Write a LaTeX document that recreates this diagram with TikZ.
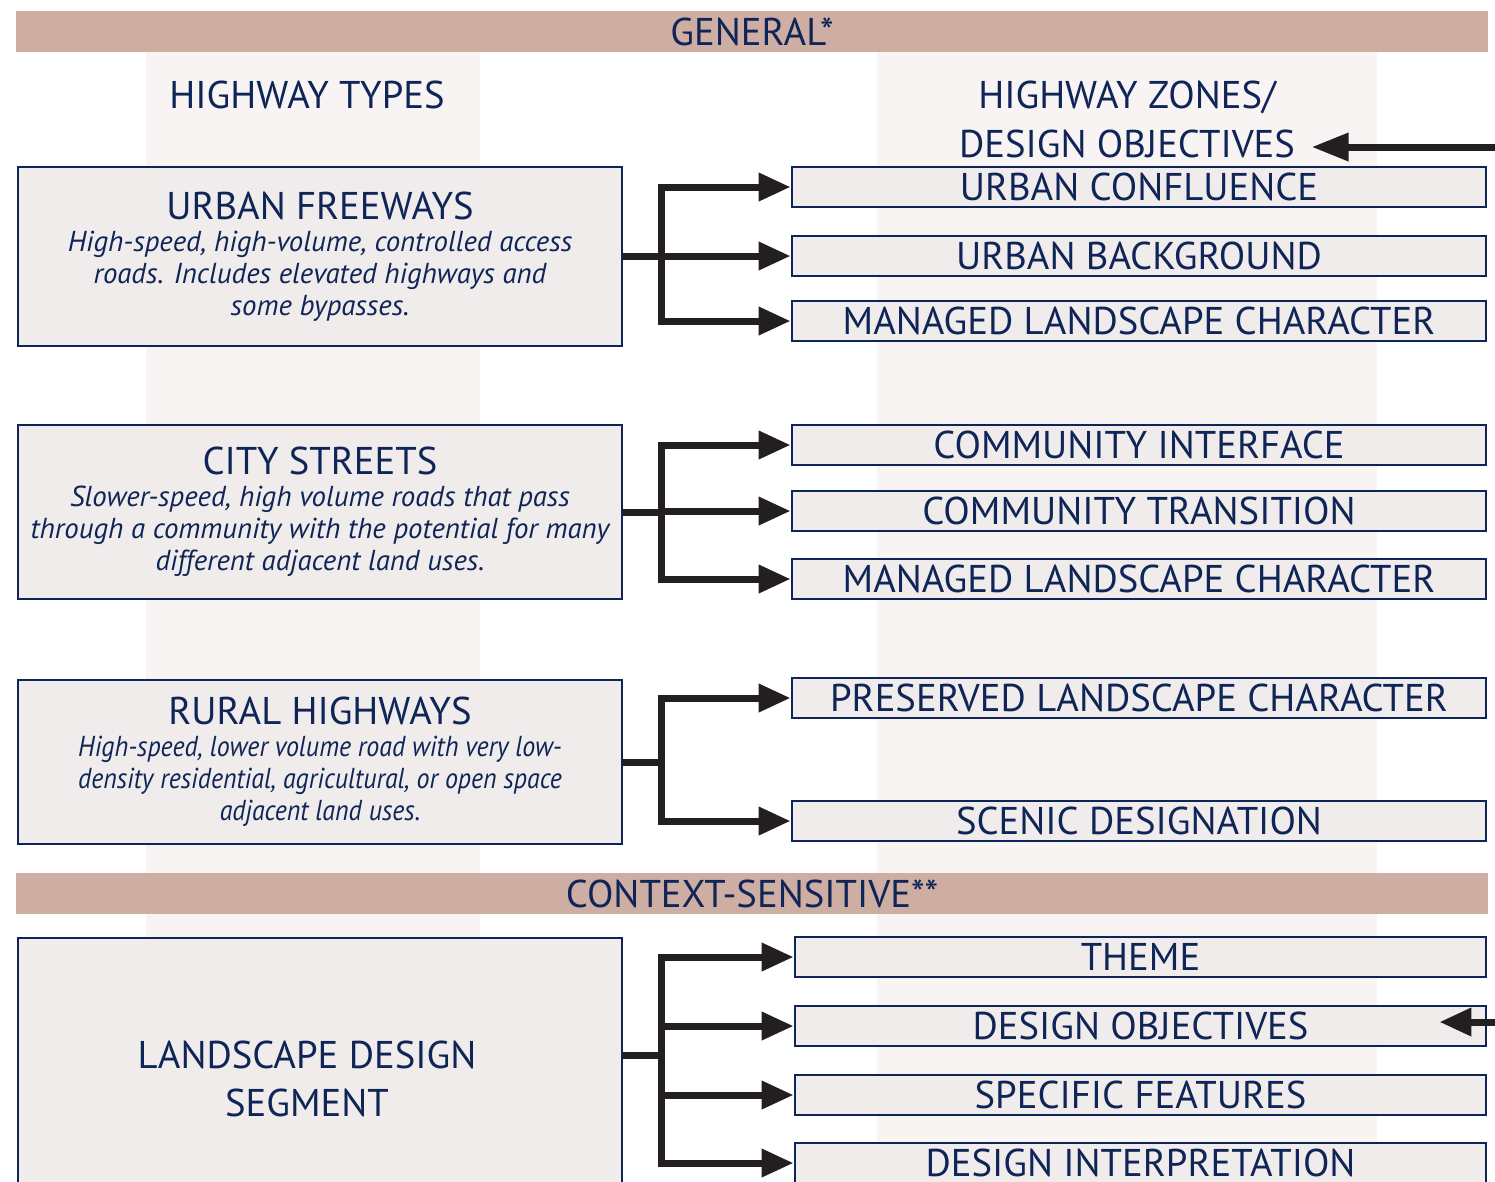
\documentclass[tikz,border=0pt]{standalone}
\usepackage{fontspec}
\setmainfont{PT Sans}
\newfontfamily\narrowfont[FakeStretch=0.9]{PT Sans}
\usetikzlibrary{positioning,arrows.meta}
\definecolor{bandtan}{HTML}{CEADA3}
\definecolor{colshade}{HTML}{F8F4F3}
\definecolor{boxfill}{HTML}{F0ECEB}
\definecolor{navy}{HTML}{0F2557}
\definecolor{arrowblk}{HTML}{231F20}
\newcommand{\capsize}{\fontsize{11}{12}\selectfont}
\tikzset{
  flowline/.style={line width=0.7mm, draw=arrowblk},
  flowarrow/.style={flowline, -{Triangle[length=3.2mm,width=2.7mm]}},
  band/.style={fill=bandtan, minimum width=14.72cm, minimum height=0.41cm, inner sep=0pt, text=navy, font=\capsize},
  heading/.style={anchor=base, inner sep=0pt, text=navy, font=\capsize},
  typebox/.style={draw=navy, line width=0.25mm, fill=boxfill, minimum width=6.04cm, align=center, text=navy, font=\fontsize{8.2}{9.1}\selectfont\itshape},
  zonebox/.style={draw=navy, line width=0.25mm, fill=boxfill, minimum width=6.94cm, minimum height=0.4cm, inner sep=0pt, text=navy, font=\capsize}
}

\begin{document}
\begin{tikzpicture}[x=0.01cm, y=-0.01cm]
  \useasboundingbox (0,0) rectangle (1495,1181);
  \clip (0,0) rectangle (1495,1181);
  % shaded columns
  \fill[colshade] (146,52) rectangle (480,1181);
  \fill[colshade] (877,52) rectangle (1377,1181);

  \node[band] (gen) at (752,31.5) {GENERAL*};
  \node[heading] (tyhead) at (307,108) {HIGHWAY TYPES};
  \node[heading] (zhead1) at (1127,108) {HIGHWAY ZONES/};
  \node[heading] (zhead2) at (1127,157) {DESIGN OBJECTIVES};

  % highway types
  \node[typebox, minimum height=1.79cm] (fwy) at (320,256.5)
    {{\capsize\upshape URBAN FREEWAYS}\\ High-speed, high-volume, controlled access\\ roads. Includes elevated highways and\\ some bypasses.};
  \node[typebox, minimum height=1.74cm] (city) at (320,512)
    {{\capsize\upshape CITY STREETS}\\ Slower-speed, high volume roads that pass\\ through a community with the potential for many\\ different adjacent land uses.};
  \node[typebox, minimum height=1.64cm, font=\fontsize{8.2}{9.1}\narrowfont\itshape] (rural) at (320,762)
    {{\capsize\setmainfont{PT Sans}\upshape RURAL HIGHWAYS}\\ High-speed, lower volume road with very low-\\ density residential, agricultural, or open space\\ adjacent land uses.};

  % zones
  \node[zonebox] (uc) at (1139,187) {URBAN CONFLUENCE};
  \node[zonebox] (ub) at (1139,256) {URBAN BACKGROUND};
  \node[zonebox] (mlca) at (1139,321) {MANAGED LANDSCAPE CHARACTER};
  \node[zonebox] (ci) at (1139,445) {COMMUNITY INTERFACE};
  \node[zonebox] (ct) at (1139,511) {COMMUNITY TRANSITION};
  \node[zonebox] (mlcb) at (1139,579) {MANAGED LANDSCAPE CHARACTER};
  \node[zonebox] (plc) at (1139,698) {PRESERVED LANDSCAPE CHARACTER};
  \node[zonebox] (sd) at (1139,821) {SCENIC DESIGNATION};

  \node[band] (ctx) at (752,893.5) {CONTEXT-SENSITIVE**};

  % context-sensitive part
  \node[typebox, minimum height=2.82cm, font=\fontsize{11}{13.7}\selectfont] (lds) at (320,1079)
    {LANDSCAPE DESIGN\hspace*{2.6mm}\\ SEGMENT\hspace*{2.6mm}};
  \node[zonebox, minimum width=6.91cm] (th) at (1140.5,957) {THEME};
  \node[zonebox, minimum width=6.91cm] (dob) at (1140.5,1026) {DESIGN OBJECTIVES};
  \node[zonebox, minimum width=6.91cm] (sf) at (1140.5,1095) {SPECIFIC FEATURES};
  \node[zonebox, minimum width=6.91cm] (di) at (1140.5,1163) {DESIGN INTERPRETATION};

  % connectors
  \draw[flowline] (fwy.east) -- ++(38,0) coordinate (j1);
  \draw[flowarrow] (j1) |- (uc);
  \draw[flowarrow] (j1) |- (ub);
  \draw[flowarrow] (j1) |- (mlca);

  \draw[flowline] (city.east) -- ++(38,0) coordinate (j2);
  \draw[flowarrow] (j2) |- (ci);
  \draw[flowarrow] (j2) |- (ct);
  \draw[flowarrow] (j2) |- (mlcb);

  \draw[flowline] (rural.east) -- ++(38,0) coordinate (j3);
  \draw[flowarrow] (j3) |- (plc);
  \draw[flowarrow] (j3) |- (sd);

  \draw[flowline] ([yshift=2.4mm]lds.east) -- ++(38,0) coordinate (j4);
  \draw[flowarrow] (j4) |- (th);
  \draw[flowarrow] (j4) |- (dob);
  \draw[flowarrow] (j4) |- (sf);
  \draw[flowarrow] (j4) |- (di);

  % incoming arrows from the right edge
  \coordinate (in1) at (1495,147);
  \draw[flowarrow, -{Triangle[length=3.7mm,width=2.7mm]}] (in1) -- ([xshift=1.6mm]zhead2.east |- in1);
  \coordinate (in2) at (1495,1022);
  \draw[flowarrow] (in2) -- ([xshift=-4.8mm]dob.east |- in2);
\end{tikzpicture}
\end{document}
